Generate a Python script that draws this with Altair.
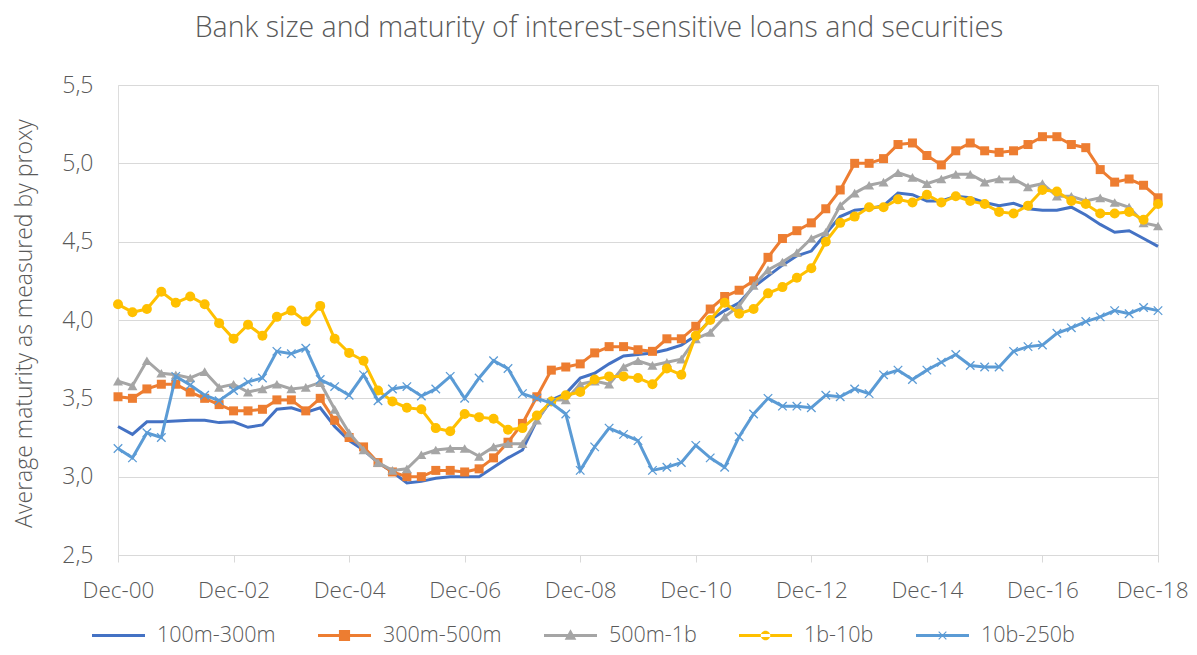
import altair as alt
import pandas as pd

# ---- categories ----
months = ["Mar", "Jun", "Sep", "Dec"]
quarters = ["Dec-00"] + [f"{m}-{y:02d}" for y in range(1, 19) for m in months]
tick_labels = ["Dec-00", "Dec-02", "Dec-04", "Dec-06", "Dec-08",
               "Dec-10", "Dec-12", "Dec-14", "Dec-16", "Dec-18"]
y_ticks = [2.5, 3.0, 3.5, 4.0, 4.5, 5.0, 5.5]

series_names = ["100m-300m", "300m-500m", "500m-1b", "1b-10b", "10b-250b"]
colors = ["#4472C4", "#ED7D31", "#A5A5A5", "#FFC000", "#5B9BD5"]

# ---- series values (quarterly, Dec-00 .. Dec-18) ----
s_100m_300m = [3.32, 3.27, 3.35, 3.35, 3.355, 3.36, 3.36, 3.345, 3.35, 3.315,
               3.33, 3.43, 3.44, 3.41, 3.44, 3.32, 3.23, 3.17, 3.09, 3.03,
               2.96, 2.97, 2.99, 3.00, 3.00, 3.00, 3.06, 3.12, 3.17, 3.36,
               3.49, 3.53, 3.63, 3.66, 3.72, 3.77, 3.78, 3.79, 3.81, 3.84,
               3.90, 4.00, 4.06, 4.11, 4.21, 4.28, 4.35, 4.41, 4.44, 4.55,
               4.66, 4.70, 4.71, 4.73, 4.81, 4.80, 4.76, 4.76, 4.79, 4.78,
               4.75, 4.73, 4.745, 4.71, 4.70, 4.70, 4.72, 4.67, 4.61, 4.56,
               4.57, 4.52, 4.47]
s_300m_500m = [3.51, 3.50, 3.56, 3.59, 3.59, 3.54, 3.50, 3.46, 3.42, 3.42,
               3.43, 3.49, 3.49, 3.42, 3.50, 3.36, 3.25, 3.19, 3.09, 3.03,
               3.00, 3.00, 3.04, 3.04, 3.03, 3.05, 3.12, 3.22, 3.34, 3.51,
               3.68, 3.70, 3.72, 3.79, 3.83, 3.83, 3.81, 3.80, 3.88, 3.88,
               3.96, 4.07, 4.15, 4.19, 4.25, 4.40, 4.52, 4.57, 4.62, 4.71,
               4.83, 5.00, 5.00, 5.03, 5.12, 5.13, 5.05, 4.99, 5.08, 5.13,
               5.08, 5.07, 5.08, 5.12, 5.17, 5.17, 5.12, 5.10, 4.96, 4.88,
               4.90, 4.86, 4.78]
s_500m_1b = [3.61, 3.58, 3.74, 3.66, 3.65, 3.63, 3.67, 3.57, 3.59, 3.54,
             3.56, 3.59, 3.56, 3.57, 3.60, 3.43, 3.28, 3.17, 3.09, 3.04,
             3.05, 3.14, 3.17, 3.18, 3.18, 3.13, 3.19, 3.21, 3.21, 3.36,
             3.49, 3.49, 3.59, 3.61, 3.59, 3.70, 3.74, 3.71, 3.73, 3.75,
             3.88, 3.92, 4.02, 4.09, 4.22, 4.32, 4.37, 4.43, 4.52, 4.56,
             4.73, 4.81, 4.86, 4.88, 4.94, 4.91, 4.87, 4.90, 4.93, 4.93,
             4.88, 4.90, 4.90, 4.85, 4.87, 4.79, 4.79, 4.76, 4.78, 4.75,
             4.72, 4.62, 4.60]
s_1b_10b = [4.10, 4.05, 4.07, 4.18, 4.11, 4.15, 4.10, 3.98, 3.88, 3.97,
            3.90, 4.02, 4.06, 3.99, 4.09, 3.88, 3.79, 3.74, 3.55, 3.48,
            3.44, 3.43, 3.31, 3.29, 3.40, 3.38, 3.37, 3.30, 3.31, 3.39,
            3.48, 3.52, 3.54, 3.62, 3.64, 3.64, 3.63, 3.59, 3.69, 3.65,
            3.90, 4.00, 4.11, 4.04, 4.07, 4.17, 4.21, 4.27, 4.33, 4.50,
            4.62, 4.66, 4.72, 4.72, 4.77, 4.75, 4.80, 4.75, 4.79, 4.76,
            4.74, 4.69, 4.68, 4.73, 4.83, 4.82, 4.76, 4.74, 4.68, 4.68,
            4.69, 4.64, 4.74]
s_10b_250b = [3.18, 3.12, 3.28, 3.25, 3.64, 3.585, 3.52, 3.485, 3.55, 3.605,
              3.63, 3.80, 3.785, 3.82, 3.62, 3.575, 3.52, 3.65, 3.485, 3.56,
              3.575, 3.515, 3.56, 3.64, 3.50, 3.63, 3.74, 3.69, 3.53, 3.50,
              3.47, 3.40, 3.04, 3.19, 3.31, 3.27, 3.23, 3.04, 3.06, 3.09,
              3.20, 3.12, 3.06, 3.255, 3.40, 3.50, 3.45, 3.45, 3.44, 3.52,
              3.51, 3.56, 3.53, 3.65, 3.68, 3.62, 3.68, 3.73, 3.78, 3.71,
              3.70, 3.70, 3.80, 3.83, 3.84, 3.915, 3.95, 3.99, 4.02, 4.06,
              4.04, 4.08, 4.06]

all_series = [s_100m_300m, s_300m_500m, s_500m_1b, s_1b_10b, s_10b_250b]

rows = []
for name, vals in zip(series_names, all_series):
    for q, v in zip(quarters, vals):
        rows.append({"quarter": q, "series": name, "value": v})
df = pd.DataFrame(rows)

FONT = "Open Sans"
TXT = "#595959"
GRID = "#d9d9d9"
last_test = "datum.label == 'Dec-18'"

x_enc = alt.X("quarter:O", sort=quarters,
              scale=alt.Scale(type="point", padding=0),
              axis=alt.Axis(values=tick_labels, labelAngle=0, title=None, grid=False,
                            domainColor=GRID, domainWidth=1, tickColor=GRID, tickSize=7,
                            labelPadding=17, labelFont=FONT, labelFontSize=22.5,
                            labelFontWeight=300, labelColor=TXT,
                            labelAlign={"condition": {"test": last_test, "value": "right"},
                                        "value": "center"},
                            labelOffset={"condition": {"test": last_test, "value": 30},
                                         "value": 0}))
y_enc = alt.Y("value:Q",
              scale=alt.Scale(domain=[2.5, 5.5], nice=False, zero=False),
              axis=alt.Axis(values=y_ticks, domain=False, ticks=False,
                            labelExpr="replace(format(datum.value, '.1f'), '.', ',')",
                            labelPadding=25, labelFont=FONT, labelFontSize=23,
                            labelFontWeight=300, labelColor=TXT,
                            gridColor=GRID, gridWidth=1,
                            title="Average maturity as measured by proxy",
                            titleFont=FONT, titleFontSize=23, titleFontWeight=300,
                            titleColor=TXT, titleX=-94, titleY=238,
                            titleAlign="center", titleBaseline="middle"))

xshape = "M-1,-1L1,1M-1,1L1,-1"
marker_specs = [
    None,
    dict(shape="square", size=81, filled=True),
    dict(shape="triangle-up", size=100, filled=True),
    dict(shape="circle", size=100, filled=True),
    dict(shape=xshape, size=72, filled=False, strokeWidth=1.3),
]

layers = []
for name, color, spec in zip(series_names, colors, marker_specs):
    base = alt.Chart(df).transform_filter(alt.datum.series == name)
    layers.append(base.mark_line(color=color, strokeWidth=3).encode(x=x_enc, y=y_enc))
    if spec is not None:
        layers.append(base.mark_point(color=color, opacity=1, **spec).encode(x=x_enc, y=y_enc))

# legend symbols: line + marker as filled paths in a -1..1 box
line_p = "M-1,-0.06H1V0.06H-1Z"
legend_paths = [
    line_p,
    line_p + "M-0.21,-0.21H0.21V0.21H-0.21Z",
    line_p + "M0,-0.24L0.22,0.16H-0.22Z",
    line_p + "M-0.18,0A0.18,0.18 0 1,0 0.18,0A0.18,0.18 0 1,0 -0.18,0Z",
    line_p + "M-0.16,-0.13L-0.13,-0.16L0.16,0.13L0.13,0.16Z"
             "M-0.13,0.16L-0.16,0.13L0.13,-0.16L0.16,-0.13Z",
]

leg = alt.Legend(orient="none", legendX=-26, legendY=524, direction="horizontal",
                 title=None, labelFont=FONT, labelFontSize=21.5, labelFontWeight=300,
                 labelColor=TXT, symbolSize=2809, symbolStrokeWidth=0,
                 symbolOpacity=1, labelOffset=12, columnPadding=42)

legend_layer = alt.Chart(df).transform_filter("false").mark_point(
    filled=True, opacity=1, size=2809).encode(
    color=alt.Color("series:N", scale=alt.Scale(domain=series_names, range=colors), legend=leg),
    shape=alt.Shape("series:N", scale=alt.Scale(domain=series_names, range=legend_paths), legend=leg),
)
layers.append(legend_layer)

chart = alt.layer(*layers).properties(
    width=1040, height=470,
    autosize=alt.AutoSizeParams(type="none"),
    padding={"left": 110, "top": 77, "right": 31, "bottom": 92},
    title=alt.TitleParams(
        "Bank size and maturity of interest-sensitive loans and securities",
        font=FONT, fontSize=28.5, fontWeight=300, color=TXT,
        anchor="middle", frame="group", dx=-39, offset=32),
).configure_view(stroke=None).configure(background="white")

chart.save("out.html", embed_options={"renderer": "svg", "actions": False})
